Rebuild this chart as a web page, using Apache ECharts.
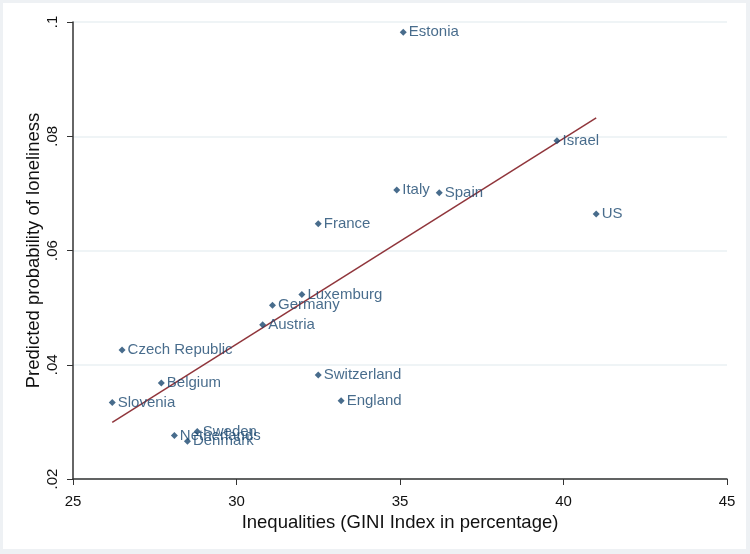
<!DOCTYPE html>
<html>
<head>
<meta charset="utf-8">
<script src="https://cdn.jsdelivr.net/npm/echarts@6/dist/echarts.min.js"></script>
<style>
  html, body { margin: 0; padding: 0; background: #eef1f4; }
  #chart { width: 750px; height: 554px; }
</style>
</head>
<body>
<div id="chart"></div>
<script>
    // countries, GINI index and predicted probability of loneliness
    var countries = ['Estonia', 'Israel', 'Italy', 'Spain', 'US', 'France', 'Luxemburg', 'Germany', 'Austria',
        'Czech Republic', 'Switzerland', 'Belgium', 'Slovenia', 'England', 'Sweden', 'Netherlands', 'Denmark'];
    var gini = [35.1, 39.8, 34.9, 36.2, 41.0, 32.5, 32.0, 31.1, 30.8, 26.5, 32.5, 27.7, 26.2, 33.2, 28.8, 28.1, 28.5];
    var loneliness = [0.0982, 0.0792, 0.0706, 0.0701, 0.0664, 0.0647, 0.0523, 0.0504, 0.0470,
        0.0426, 0.0382, 0.0368, 0.0334, 0.0337, 0.0283, 0.0276, 0.0266];

    // fitted line end points
    var fitX = [26.2, 41.0];
    var fitY = [0.0299, 0.0832];

    var xTicks = [25, 30, 35, 40, 45];
    var yTicks = [0.02, 0.04, 0.06, 0.08, 0.1];

    var points = countries.map(function (c, i) { return [gini[i], loneliness[i], c]; });
    var fitLine = fitX.map(function (x, i) { return [x, fitY[i]]; });

    var chart = echarts.init(document.getElementById('chart'));
    chart.setOption({
        backgroundColor: 'transparent',
        textStyle: { fontFamily: 'Liberation Sans, Arial, sans-serif' },
        graphic: [{
            type: 'rect', z: -10, silent: true,
            shape: { x: 3, y: 3, width: 743, height: 546 },
            style: { fill: '#ffffff' }
        }],
        grid: { left: 73, right: 23, top: 22, bottom: 75 },
        xAxis: {
            type: 'value', min: xTicks[0], max: xTicks[xTicks.length - 1], interval: 5,
            name: 'Inequalities (GINI Index in percentage)',
            nameLocation: 'middle', nameGap: 32,
            nameTextStyle: { fontSize: 18.5, color: '#111' },
            axisLine: { lineStyle: { color: '#333', width: 1.5 } },
            axisTick: { length: 6, lineStyle: { color: '#333' } },
            axisLabel: { fontSize: 15, color: '#111', margin: 15 },
            splitLine: { show: false }
        },
        yAxis: {
            type: 'value', min: yTicks[0], max: yTicks[yTicks.length - 1], interval: 0.02,
            name: 'Predicted probability of loneliness',
            nameLocation: 'middle', nameGap: 30, nameRotate: 90, nameMoveOverlap: false,
            nameTextStyle: { fontSize: 18.5, color: '#111' },
            axisLine: { show: true, lineStyle: { color: '#333', width: 1.5 } },
            axisTick: { show: true, length: 6, lineStyle: { color: '#333' } },
            axisLabel: {
                fontSize: 15, color: '#111', rotate: 90, margin: 13,
                formatter: function (v) { return v.toFixed(2).replace(/^0/, '').replace(/0$/, ''); }
            },
            splitLine: { show: true, lineStyle: { color: '#eaf0f3', width: 1.5 } }
        },
        series: [{
            type: 'scatter',
            data: points,
            symbol: 'diamond',
            symbolSize: 7,
            itemStyle: { color: '#1a476f' },
            label: {
                show: true, position: 'right', distance: 2,
                fontSize: 15, color: '#1a476f',
                formatter: function (p) { return p.data[2]; }
            },
            z: 3
        }, {
            type: 'line',
            data: fitLine,
            showSymbol: false,
            lineStyle: { color: '#90353b', width: 1.5 },
            z: 2
        }]
    });
</script>
</body>
</html>
